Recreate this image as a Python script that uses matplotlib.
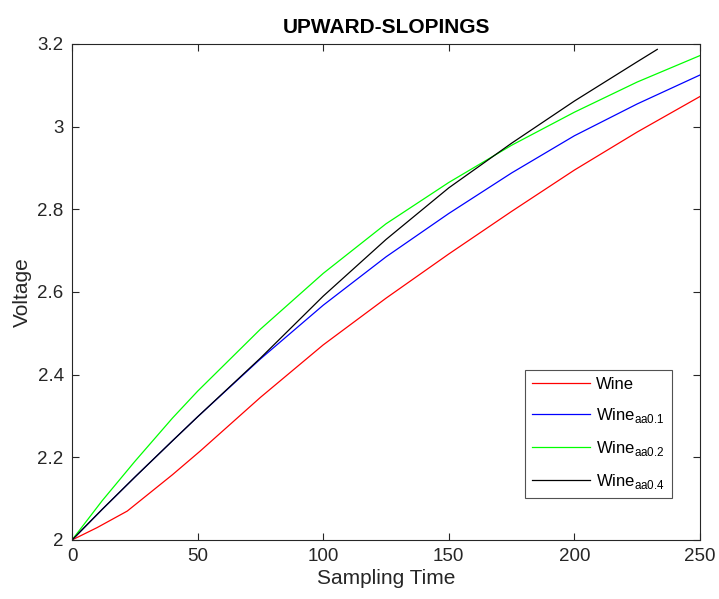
import matplotlib
matplotlib.use("Agg")
import matplotlib.pyplot as plt
from matplotlib.ticker import FormatStrFormatter

plt.rcParams['font.family'] = ['Liberation Sans', 'DejaVu Sans']
plt.rcParams['mathtext.fontset'] = 'custom'
plt.rcParams['mathtext.rm'] = 'Liberation Sans'

# values
x_wine = [0, 10, 22, 40, 51, 75, 100, 125, 150, 175, 200, 225, 250]
y_wine = [2.0, 2.03, 2.07, 2.158, 2.215, 2.345, 2.472, 2.585, 2.692, 2.795, 2.895, 2.987, 3.073]

x_aa01 = [0, 12, 25, 40, 50, 75, 100, 125, 150, 175, 200, 225, 250]
y_aa01 = [2.0, 2.074, 2.152, 2.24, 2.298, 2.438, 2.568, 2.685, 2.79, 2.888, 2.978, 3.055, 3.125]

x_aa02 = [0, 12, 25, 40, 50, 75, 100, 125, 150, 175, 200, 225, 250]
y_aa02 = [2.0, 2.095, 2.19, 2.295, 2.36, 2.51, 2.645, 2.765, 2.865, 2.955, 3.035, 3.108, 3.172]

x_aa04 = [0, 12, 25, 40, 50, 75, 100, 125, 150, 175, 200, 225, 233]
y_aa04 = [2.0, 2.074, 2.152, 2.24, 2.298, 2.44, 2.59, 2.727, 2.852, 2.96, 3.062, 3.157, 3.187]

labels = ['Wine', r'Wine$_{\mathrm{aa0.1}}$', r'Wine$_{\mathrm{aa0.2}}$', r'Wine$_{\mathrm{aa0.4}}$']
colors = ['#ff0000', '#0000ff', '#00ff00', '#000000']

fig = plt.figure(figsize=(7.19, 5.99), dpi=100)
ax = fig.add_axes([72 / 719, 1 - 540 / 599, 628 / 719, 496 / 599])

series = [(x_wine, y_wine), (x_aa01, y_aa01), (x_aa02, y_aa02), (x_aa04, y_aa04)]
for (xs, ys), lab, c in zip(series, labels, colors):
    ax.plot(xs, ys, color=c, lw=0.9, label=lab)

ax.set_xlim(0, 250)
ax.set_ylim(2, 3.2)
ax.set_xticks([0, 50, 100, 150, 200, 250])
ax.set_yticks([2, 2.2, 2.4, 2.6, 2.8, 3, 3.2])
ax.yaxis.set_major_formatter(FormatStrFormatter('%g'))

dark = '#262626'
for s in ax.spines.values():
    s.set_color(dark)
    s.set_linewidth(0.8)
ax.tick_params(direction='in', top=True, right=True, length=5, width=0.8,
               colors=dark, labelsize=13.5, pad=6)

ax.set_title('UPWARD-SLOPINGS', fontsize=15, fontweight='bold', color='black', pad=8)
ax.set_xlabel('Sampling Time', fontsize=15, color=dark, labelpad=3)
ax.set_ylabel('Voltage', fontsize=15, color=dark, labelpad=4)

leg = ax.legend(loc='lower right', bbox_to_anchor=(0.955, 0.085), fancybox=False,
                fontsize=12, borderaxespad=0, handlelength=3.5, labelspacing=0.85,
                borderpad=0.4, handletextpad=0.35)
leg.get_frame().set_edgecolor(dark)
leg.get_frame().set_linewidth(0.8)

fig.savefig('out.png', dpi=100)
